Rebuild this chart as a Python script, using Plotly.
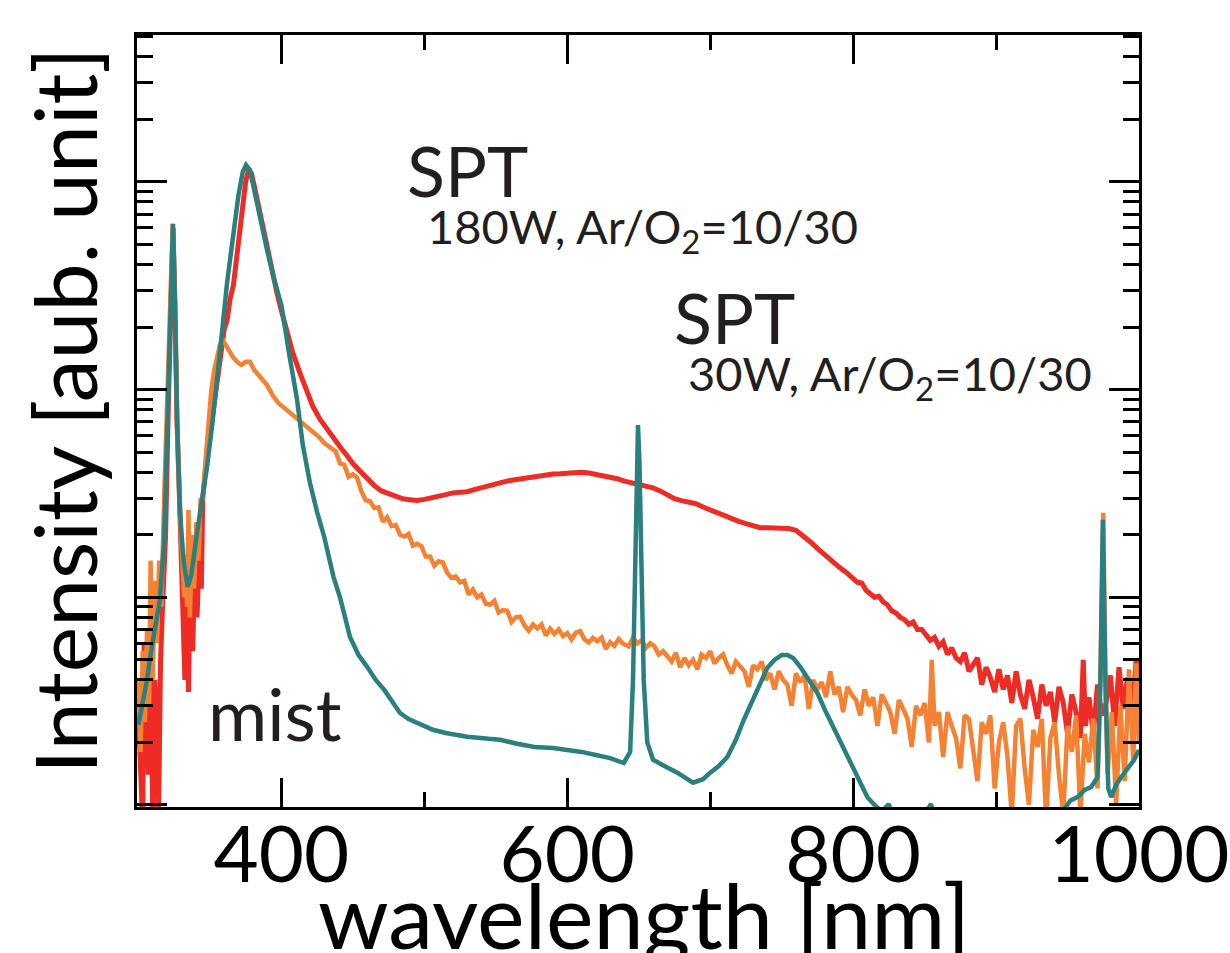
import plotly.graph_objects as go

# ---------------- data ----------------
# SPT 180W, Ar/O2=10/30 (red)
red_wl = [300, 301.5, 303, 304, 305.5, 307, 308.5, 310, 311.5, 313,
          314, 315.5, 317, 319, 321, 323, 324.2, 325.5, 327, 329,
          331, 332.5, 334, 335, 336.5, 338, 339.5, 341, 343, 344,
          345, 347, 350, 353, 356, 358, 360, 362, 364, 366.5,
          369, 371.3, 373, 375, 377, 379, 381, 383, 385.3, 388,
          391, 394, 397, 400, 404, 408, 413, 418, 422, 427,
          432, 437, 441, 446, 450, 455, 460, 465, 470, 475,
          480, 485, 490, 495, 500, 505, 510, 515, 520, 525,
          530, 535, 540, 545, 550, 555, 560, 565, 570, 575,
          580, 585, 590, 595, 600, 605, 610, 615, 620, 625,
          630, 635, 640, 645, 650, 655, 660, 665, 670, 675,
          680, 685, 690, 695, 700, 705, 710, 715, 720, 725,
          730, 735, 740, 745, 750, 755, 760, 765, 770, 775,
          780, 785, 790, 795, 800, 803, 806, 809, 812, 815,
          818, 821, 824, 827, 830, 833, 836, 839, 842, 845,
          848, 851, 854, 857, 860, 863, 866, 869, 872, 875,
          878, 881, 884, 887, 890, 893, 896, 899, 902, 905,
          908, 911, 914, 917, 920, 923, 926, 929, 932, 935,
          938, 941, 944, 947, 950, 953, 956, 959, 961, 962.5,
          965, 968, 971, 974, 977, 980, 983, 986, 989, 992,
          995, 998, 1000]
red_int = [28, 12, 8, 60, 25, 14, 45, 9, 40, 22,
           8, 50, 95, 200, 900, 3200, 6000, 2700, 700, 260,
           110, 40, 120, 35, 140, 55, 170, 80, 200, 110,
           300, 420, 600, 850, 1200, 1650, 1950, 2150, 2700, 3200,
           4500, 5700, 7500, 10000, 11400, 11000, 9600, 8200, 6800, 5600,
           4400, 3500, 2900, 2400, 1870, 1500, 1200, 980, 830, 720,
           640, 580, 530, 480, 440, 405, 370, 345, 325, 315,
           305, 298, 295, 292, 296, 300, 306, 312, 318, 320,
           322, 330, 338, 345, 352, 358, 365, 370, 375, 380,
           385, 388, 392, 393, 396, 398, 400, 396, 390, 385,
           380, 372, 362, 355, 350, 342, 336, 325, 310, 298,
           292, 286, 282, 272, 263, 255, 247, 240, 232, 226,
           220, 216, 216, 215, 216, 214, 210, 198, 185, 172,
           160, 150, 140, 132, 122, 118, 117, 108, 104, 100,
           101, 95, 92, 86, 84, 80, 78, 74, 76, 70,
           70, 66, 62, 64, 58, 61, 53, 57, 51, 49,
           54, 44, 48, 51, 38, 46, 41, 35, 45, 36,
           42, 31, 44, 34, 29, 40, 33, 26, 38, 30,
           35, 25, 37, 31, 22, 34, 28, 21, 50, 24,
           33, 22, 38, 27, 31, 42, 24, 46, 29, 41,
           26, 50, 36]

# SPT 30W, Ar/O2=10/30 (orange)
orange_wl = [300, 301.5, 303, 304.5, 306, 307.5, 308.5, 310, 311.5, 313,
             314.5, 316, 318, 320, 322, 324, 325.5, 327, 329, 330.5,
             332, 333, 334, 335, 336, 337.5, 339, 340.5, 342, 343.5,
             345, 347, 349, 351, 353, 355, 357, 359, 361, 363,
             366, 369, 372, 375, 378, 381, 384, 387, 390, 394,
             398, 402, 406, 410, 414, 418, 422, 426, 430, 434,
             438, 441, 444, 447, 450, 453, 456, 459, 462, 465,
             468, 471, 474, 477, 480, 483, 486, 489, 492, 495,
             498, 501, 504, 507, 510, 513, 516, 519, 522, 525,
             528, 531, 534, 537, 540, 543, 546, 549, 552, 555,
             558, 561, 564, 567, 570, 573, 576, 579, 582, 585,
             588, 591, 594, 597, 600, 603, 606, 609, 612, 615,
             618, 621, 624, 627, 630, 633, 636, 639, 643, 646,
             649, 652, 655, 658, 661, 664, 667, 670, 673, 676,
             679, 682, 685, 688, 691, 694, 697, 700, 703, 706,
             709, 712, 715, 718, 721, 724, 727, 730, 733, 736,
             739, 742, 745, 748, 751, 754, 757, 760, 763, 766,
             769, 772, 775, 778, 781, 784, 787, 790, 793, 796,
             799, 802, 805, 808, 811, 814, 817, 820, 823, 826,
             829, 832, 835, 838, 841, 844, 847, 850, 853, 855,
             857, 860, 863, 866, 869, 872, 875, 878, 881, 884,
             887, 890, 893, 896, 899, 902, 905, 908, 911, 914,
             917, 920, 923, 926, 929, 932, 935, 938, 941, 944,
             947, 950, 953, 956, 959, 962, 965, 968, 971, 973,
             975, 976.5, 978, 981, 984, 987, 990, 993, 996, 998,
             1000]
orange_int = [40, 18, 55, 25, 70, 30, 150, 40, 120, 60,
              150, 90, 300, 900, 3000, 6300, 2600, 700, 260, 150,
              100, 160, 90, 263, 80, 200, 110, 230, 150, 300,
              294, 458, 714, 995, 1241, 1470, 1640, 1733, 1640, 1551,
              1436, 1360, 1315, 1360, 1360, 1241, 1170, 1112, 1050, 936,
              860, 816, 773, 739, 703, 661, 626, 594, 553, 524,
              503, 441, 434, 380, 391, 376, 323, 293, 290, 269,
              271, 231, 243, 220, 223, 200, 196, 202, 177, 181,
              176, 157, 157, 142, 149, 147, 131, 124, 126, 118,
              120, 103, 109, 100, 103, 93, 92, 96, 84.5, 86.7,
              86, 76, 80, 80.5, 73.5, 69, 74, 70.8, 74, 65.4,
              70.6, 66.6, 70, 65, 67.2, 62.7, 67.5, 68.7, 62.7, 60.5,
              63.8, 61.4, 64, 56.4, 60.8, 58.3, 63, 59.7, 58, 64,
              60, 62, 57, 60, 58, 53, 55, 52, 49, 54,
              46, 51, 47, 50, 45, 53, 51, 55, 48, 51,
              53, 47, 43, 49, 46, 44, 37, 47, 45, 49,
              40, 43, 36, 44, 40, 38, 30, 43, 39, 42,
              29, 40, 36, 39, 33, 44, 34, 37, 28, 37,
              34, 32, 27, 36, 30, 33, 24, 34, 31, 28,
              22, 32, 29, 26, 19, 30, 27, 31, 20, 50,
              24, 28, 17, 28, 24, 21, 15, 27, 26, 19,
              13, 25, 22, 27, 12, 20, 25, 17, 9, 24,
              26, 15, 10, 23, 19, 26, 8.5, 21, 25, 14,
              9, 24, 18, 27, 9, 22, 16, 26, 12, 40,
              255, 40, 14, 28, 10, 30, 13, 45, 16, 48,
              20]

# mist (teal)
mist_wl = [300, 303, 306, 309, 312, 315, 318, 321, 323, 324.2,
           325.5, 327, 329, 331.5, 334.4, 337, 341, 345, 348, 352,
           355, 359, 362, 366.6, 370, 373, 375.3, 378, 381, 385,
           390, 395, 400, 405, 411, 415, 420, 425, 430, 436.5,
           441, 448, 454, 460, 466, 472, 478, 483, 489, 495,
           500, 506, 515, 530, 545, 553, 565, 577, 590, 600,
           610, 620, 630, 639.5, 644, 646, 647.5, 649, 649.5, 650.5,
           652, 653.5, 656, 660, 668, 677, 688, 695, 700, 706,
           712, 718, 723.5, 730, 735, 740, 745, 750, 754, 758,
           763, 769, 775, 781, 787, 793, 798.5, 805, 810, 815,
           820, 825, 830, 840, 854.5, 860, 880, 900, 920, 940,
           947, 952, 957, 962, 966.5, 971, 973, 974.7, 976.5, 978.5,
           980.5, 984, 987.5, 992, 996.6, 1000]
mist_int = [24.3, 30.3, 40, 55.7, 73.6, 97, 189, 891, 3017, 6270,
            2700, 714, 263, 151, 112, 128, 204, 311, 424, 714,
            1076, 2046, 3261, 6067, 8650, 11160, 12060, 11410, 9140, 6555,
            4700, 3370, 2556, 1551, 891, 541, 355, 257, 195, 125,
            100, 64.4, 52.7, 46.2, 40, 35.8, 31, 27.7, 25.9, 24.8,
            23.7, 23, 22.2, 21.3, 20.8, 20.6, 19.7, 19, 18.8, 18.4,
            18, 17.4, 16.8, 15.9, 18, 40, 120, 450, 675, 450,
            120, 40, 20, 16.5, 15.4, 14.3, 12.8, 13.3, 14.3, 15.4,
            17, 20.6, 25.7, 32, 38.7, 45.7, 49.9, 52.7, 52.7, 51,
            46.2, 40, 34.6, 28, 23, 18.8, 15.9, 12.5, 10.9, 10,
            9.3, 10.1, 7.6, 7, 10.1, 7, 6.5, 6.5, 7, 8,
            9.5, 10.5, 10.9, 11.8, 12.2, 13.6, 40, 236, 40, 12,
            10.9, 12.5, 13.6, 15, 16.5, 18.4]

x_major = [400, 600, 800, 1000]
x_major_text = ["400", "600", "800", "1000"]
x_minor = [500, 700, 900]
y_decades = [10, 100, 1000, 10000]
y_minor = [m * d for d in [10, 100, 1000, 10000] for m in range(2, 10) if m * d < 52000]

RED = "#EE2B24"
ORANGE = "#F58233"
TEAL = "#2A807E"
TXT = "#231F20"
FONT = "Lato"
MID = 0.33  # baseline -> text-box centre, in font sizes

# ---------------- figure ----------------
fig = go.Figure()
fig.add_trace(go.Scatter(x=red_wl, y=red_int, mode="lines",
                         line=dict(color=RED, width=5), name="SPT 180W"))
fig.add_trace(go.Scatter(x=orange_wl, y=orange_int, mode="lines",
                         line=dict(color=ORANGE, width=4.5), name="SPT 30W"))
fig.add_trace(go.Scatter(x=mist_wl, y=mist_int, mode="lines",
                         line=dict(color=TEAL, width=4.5), name="mist"))

L, R, T, B = 137, 91, 35, 146
W, H = 1230, 953
PW, PH = W - L - R, H - T - B


def px(x):
    return (x - L) / PW


def py(y):
    return (H - B - y) / PH


def ann(text, x_left, baseline, size, anchor="left"):
    fig.add_annotation(text=text, xref="paper", yref="paper",
                       x=px(x_left), y=py(baseline - MID * size),
                       xanchor=anchor, yanchor="middle", showarrow=False,
                       font=dict(family=FONT, size=size, color=TXT))


ann("SPT", 405, 193, 70)
ann("180W, Ar/O<sub>2</sub>=10/30", 425, 245, 47)
ann("SPT", 672, 340, 70)
ann("30W, Ar/O<sub>2</sub>=10/30", 686, 392, 47)
ann("mist", 206, 737, 72)

# axis titles
fig.add_annotation(text="wavelength [nm]", xref="paper", yref="paper",
                   x=px(644), y=py(944 - MID * 90), xanchor="center",
                   yanchor="middle", showarrow=False,
                   font=dict(family=FONT, size=90, color="black"))
fig.add_annotation(text="Intensity [aub. unit]", xref="paper", yref="paper",
                   x=px(97 - 0.387 * 86), y=py(411), xanchor="center",
                   yanchor="middle", textangle=-90, showarrow=False,
                   font=dict(family=FONT, size=86, color="black"))

axis_common = dict(showline=True, linewidth=3, linecolor="black", mirror="ticks",
                   ticks="inside", tickwidth=3, tickcolor="black",
                   showgrid=False, zeroline=False, automargin=False)

fig.update_xaxes(range=[299, 1000], tickvals=x_major, ticktext=x_major_text,
                 ticklen=29, ticklabelstandoff=-22,
                 tickfont=dict(family=FONT, size=78, color="black"),
                 minor=dict(tickvals=x_minor, ticks="inside", ticklen=15,
                            tickwidth=3, tickcolor="black", showgrid=False),
                 **axis_common)
fig.update_yaxes(type="log", range=[0.99, 4.707], tickvals=y_decades,
                 showticklabels=False, ticklen=30,
                 minor=dict(tickvals=y_minor, ticks="inside", ticklen=16,
                            tickwidth=3, tickcolor="black", showgrid=False),
                 **axis_common)

fig.update_layout(width=W, height=H, margin=dict(l=L, r=R, t=T, b=B),
                  paper_bgcolor="white", plot_bgcolor="white",
                  showlegend=False)

fig.write_html("out.html", config={"displayModeBar": False},
               post_script="document.body.style.margin='0';document.body.style.overflow='hidden';")
